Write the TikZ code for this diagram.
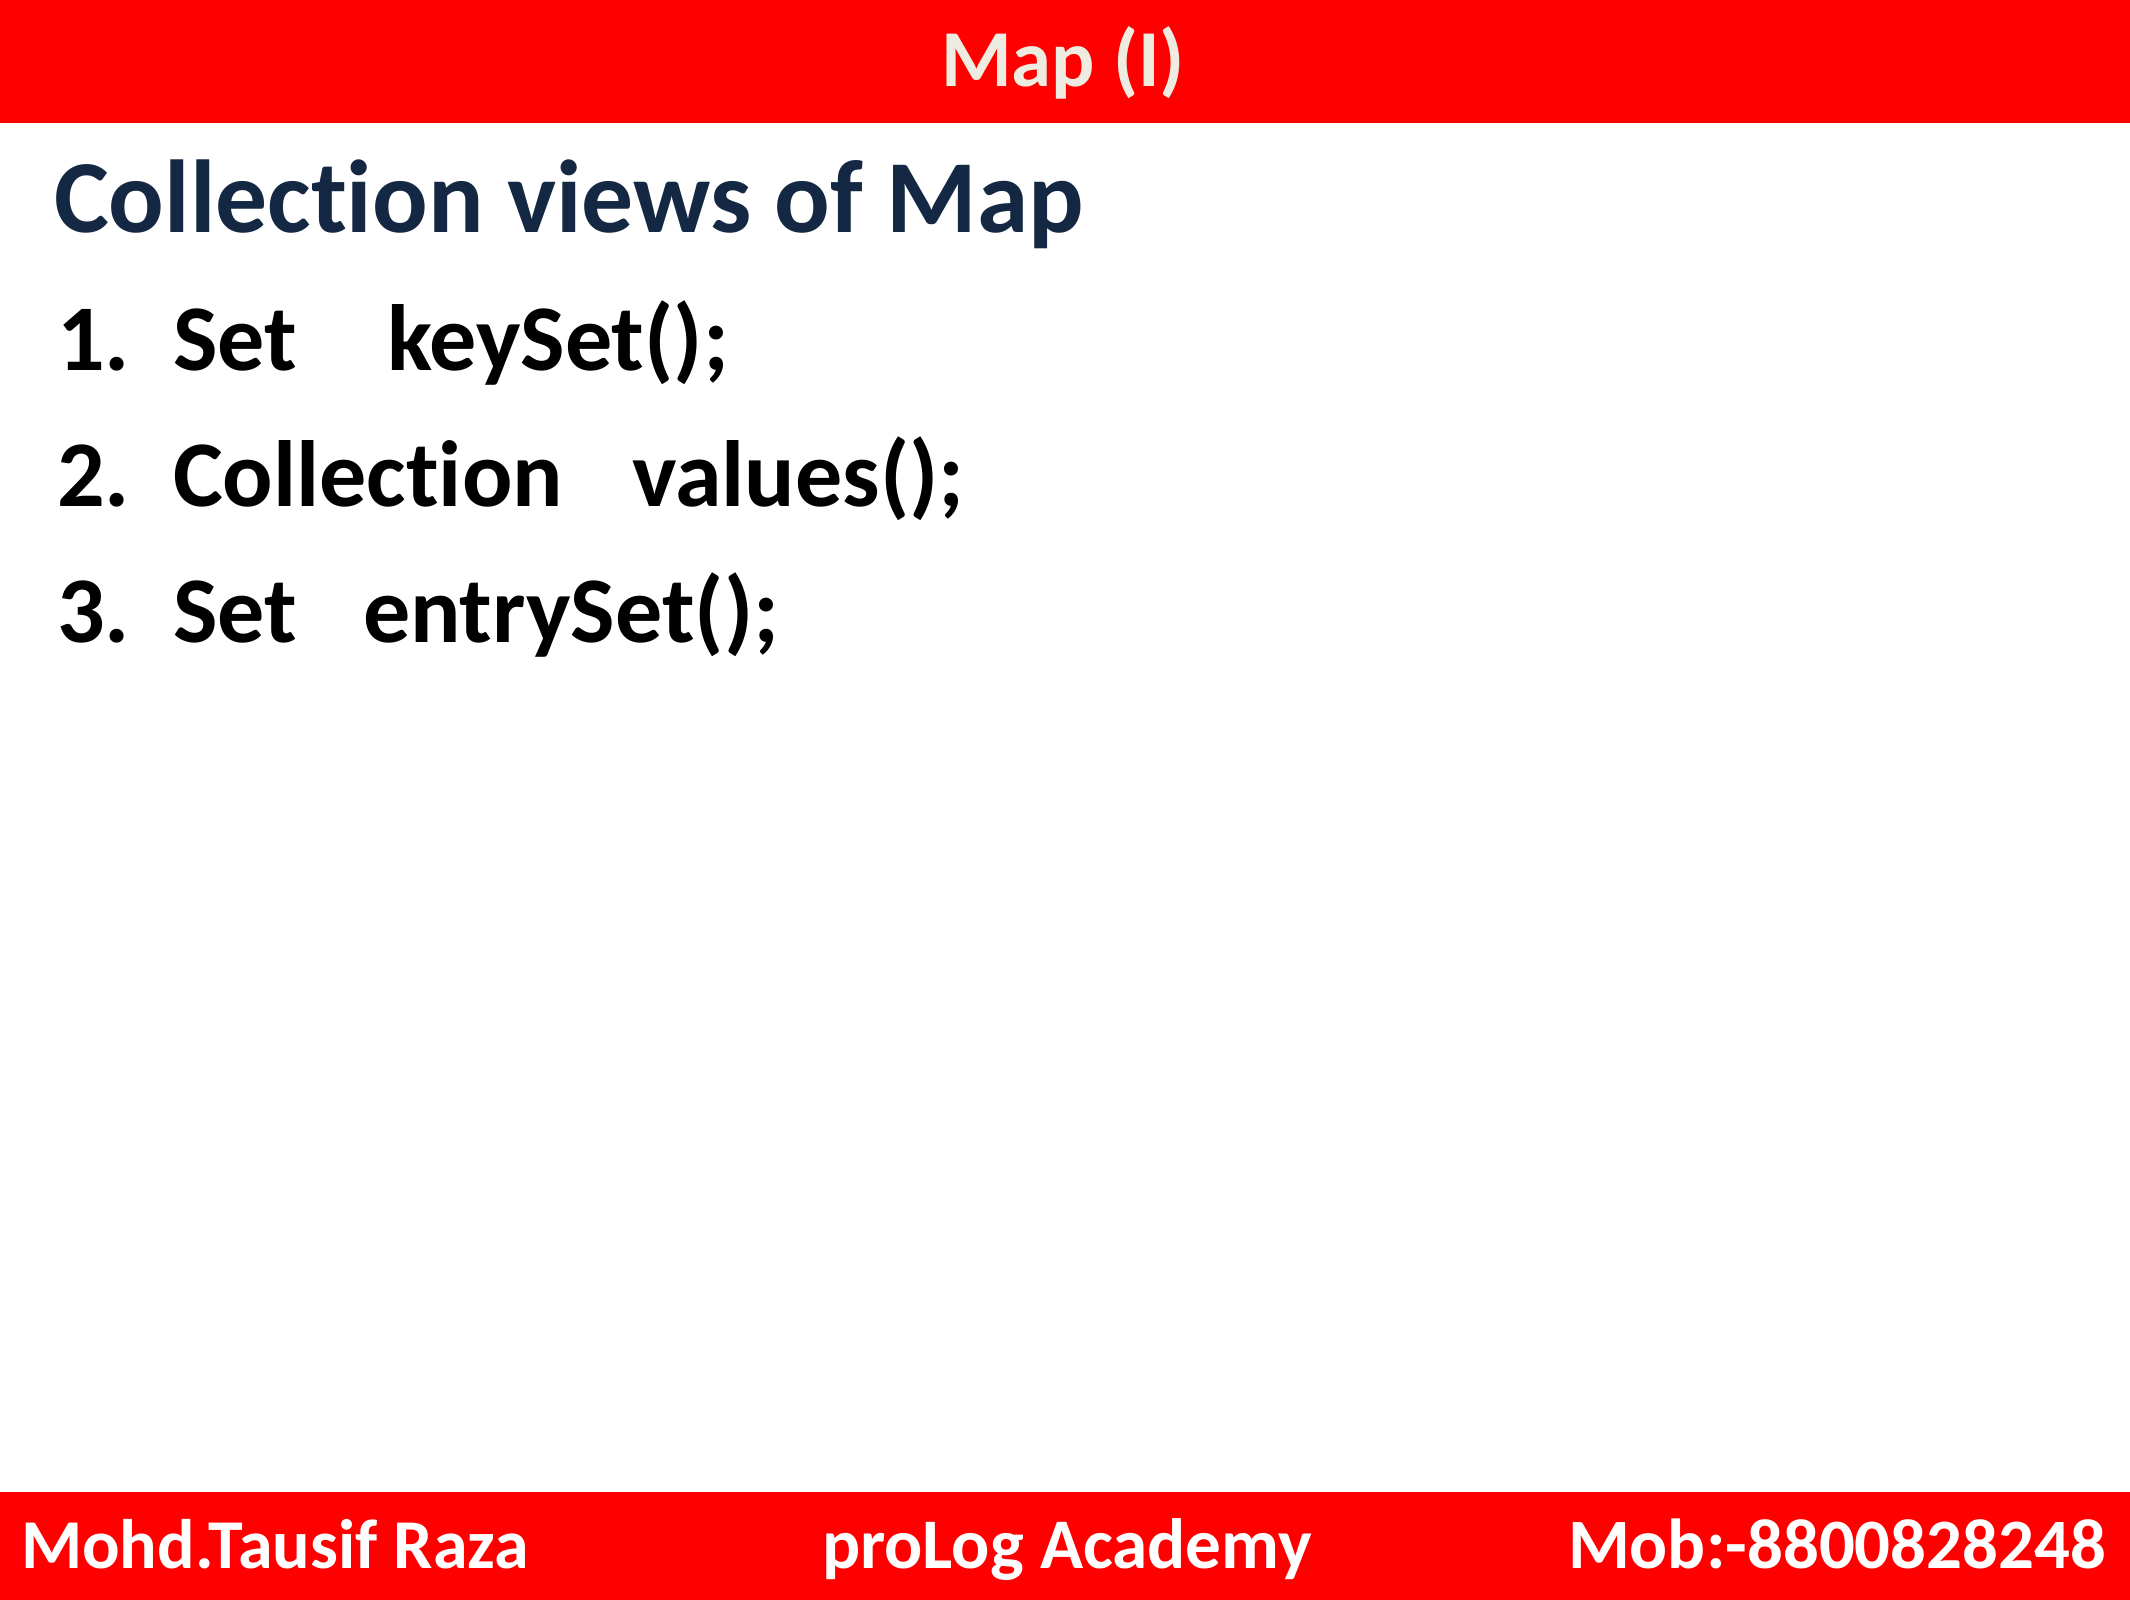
\documentclass[tikz,border=0pt]{standalone}
\usepackage{fontspec}
\setmainfont{Carlito}[Ligatures={NoCommon}]
\definecolor{barred}{HTML}{FF0000}
\definecolor{titlecol}{HTML}{EEECE1}
\definecolor{headcol}{HTML}{152843}
\newlength\fitw
\newcommand\fitto[2]{%
  \settowidth\fitw{\bfseries\fontsize{100pt}{100pt}\selectfont #2}%
  \pgfmathsetmacro\fitfs{#1/\fitw*100}%
  \fontsize{\fitfs pt}{\fitfs pt}\selectfont #2}
\tikzset{
  txt/.style={inner sep=0pt, outer sep=0pt, font=\bfseries},
  bar/.style={fill=barred, draw=none},
}
\begin{document}
\settowidth\fitw{\bfseries\fontsize{100pt}{100pt}\selectfont Collection}%
\pgfmathsetmacro\itemfs{390/\fitw*100}%
\begin{tikzpicture}[x=1pt,y=-1pt]
\path[use as bounding box, fill=white] (0,0) rectangle (2130,1600);
\fill[bar] (0,0) rectangle (2130,123);
\fill[bar] (0,1492) rectangle (2130,1600);
\node[txt, anchor=base, text=titlecol] (title) at (1063,87) {\fitto{244}{Map (I)}};
\node[txt, anchor=base west, text=headcol] (head) at (54,232) {\fitto{1030}{Collection views of Map}};
\tikzset{item/.style={txt, anchor=base west, text=black, font=\bfseries\fontsize{\itemfs pt}{\itemfs pt}\selectfont}}
\node[item] (n1) at (57,370) {1.};
\node[item] (t1) at (173,370) {Set};
\node[item] (m1) at (387,370) {keySet();};
\node[item] (n2) at (57,506) {2.};
\node[item] (t2) at (173,506) {Collection};
\node[item] (m2) at (632,506) {values();};
\node[item] (n3) at (57,642) {3.};
\node[item] (t3) at (173,642) {Set};
\node[item] (m3) at (363,642) {entrySet();};
\node[txt, anchor=base west, text=white] (author) at (21,1568) {\fitto{508}{Mohd.Tausif Raza}};
\node[txt, anchor=base, text=white] (academy) at (1067,1568) {\fitto{490}{proLog Academy}};
\node[txt, anchor=base east, text=white] (mob) at (2106,1568) {\fitto{538}{Mob:-8800828248}};
\end{tikzpicture}
\end{document}
